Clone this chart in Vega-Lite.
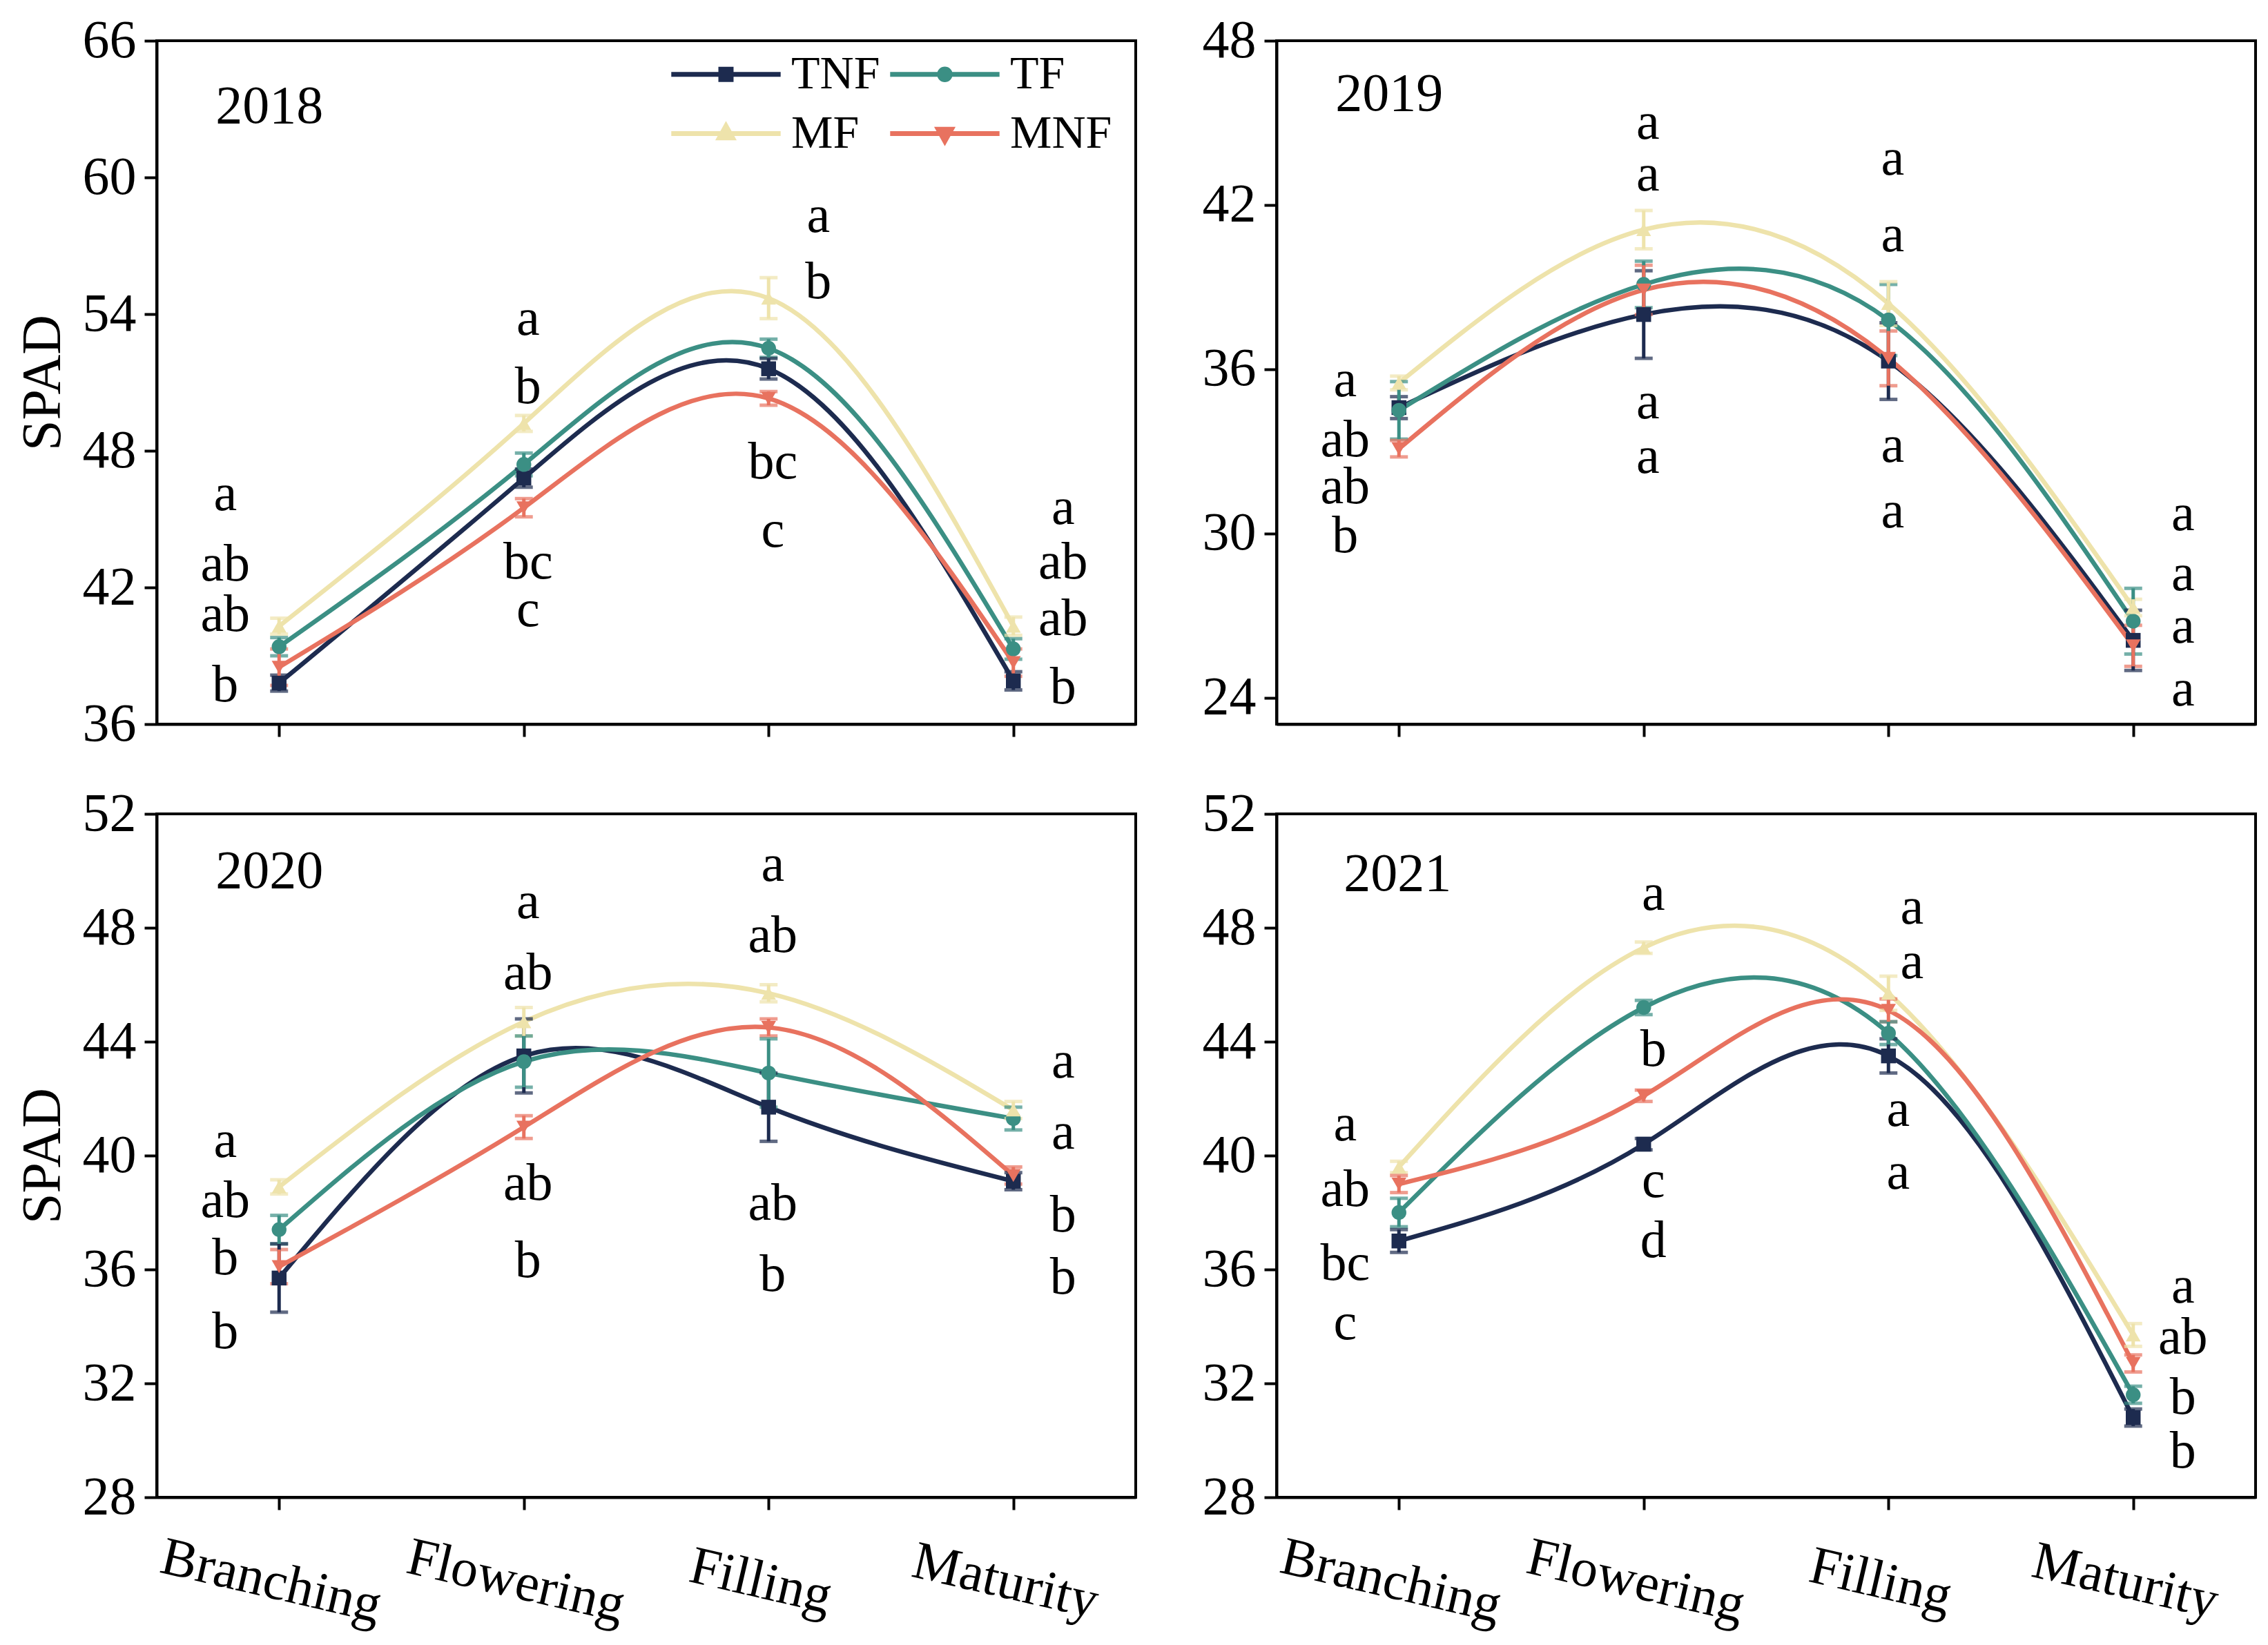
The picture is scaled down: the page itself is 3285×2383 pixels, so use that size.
{
"$schema": "https://vega.github.io/schema/vega-lite/v6.json",
"background": "white",
"padding": {"left": 20, "top": 18, "right": 5, "bottom": 5},
"datasets": {
"pts": [
{"year":2018,"stage":"Branching","trt":"TNF","value":37.8,"sd":0.35},
{"year":2018,"stage":"Branching","trt":"TF","value":39.4,"sd":0.4},
{"year":2018,"stage":"Branching","trt":"MF","value":40.3,"sd":0.35},
{"year":2018,"stage":"Branching","trt":"MNF","value":38.5,"sd":0.8},
{"year":2018,"stage":"Flowering","trt":"TNF","value":46.8,"sd":0.4},
{"year":2018,"stage":"Flowering","trt":"TF","value":47.4,"sd":0.5},
{"year":2018,"stage":"Flowering","trt":"MF","value":49.2,"sd":0.35},
{"year":2018,"stage":"Flowering","trt":"MNF","value":45.5,"sd":0.4},
{"year":2018,"stage":"Filling","trt":"TNF","value":51.6,"sd":0.45},
{"year":2018,"stage":"Filling","trt":"TF","value":52.5,"sd":0.4},
{"year":2018,"stage":"Filling","trt":"MF","value":54.7,"sd":0.9},
{"year":2018,"stage":"Filling","trt":"MNF","value":50.3,"sd":0.3},
{"year":2018,"stage":"Maturity","trt":"TNF","value":37.9,"sd":0.4},
{"year":2018,"stage":"Maturity","trt":"TF","value":39.3,"sd":0.45},
{"year":2018,"stage":"Maturity","trt":"MF","value":40.3,"sd":0.4},
{"year":2018,"stage":"Maturity","trt":"MNF","value":38.7,"sd":0.6},
{"year":2019,"stage":"Branching","trt":"TNF","value":34.6,"sd":0.4},
{"year":2019,"stage":"Branching","trt":"TF","value":34.5,"sd":1.05},
{"year":2019,"stage":"Branching","trt":"MF","value":35.5,"sd":0.25},
{"year":2019,"stage":"Branching","trt":"MNF","value":33.1,"sd":0.3},
{"year":2019,"stage":"Flowering","trt":"TNF","value":38.0,"sd":1.6},
{"year":2019,"stage":"Flowering","trt":"TF","value":39.1,"sd":0.85},
{"year":2019,"stage":"Flowering","trt":"MF","value":41.1,"sd":0.7},
{"year":2019,"stage":"Flowering","trt":"MNF","value":38.9,"sd":0.9},
{"year":2019,"stage":"Filling","trt":"TNF","value":36.3,"sd":1.4},
{"year":2019,"stage":"Filling","trt":"TF","value":37.8,"sd":1.3},
{"year":2019,"stage":"Filling","trt":"MF","value":38.4,"sd":0.8},
{"year":2019,"stage":"Filling","trt":"MNF","value":36.4,"sd":1.0},
{"year":2019,"stage":"Maturity","trt":"TNF","value":26.1,"sd":1.1},
{"year":2019,"stage":"Maturity","trt":"TF","value":26.8,"sd":1.2},
{"year":2019,"stage":"Maturity","trt":"MF","value":27.3,"sd":0.3},
{"year":2019,"stage":"Maturity","trt":"MNF","value":25.9,"sd":0.75},
{"year":2020,"stage":"Branching","trt":"TNF","value":35.7,"sd":1.2},
{"year":2020,"stage":"Branching","trt":"TF","value":37.4,"sd":0.5},
{"year":2020,"stage":"Branching","trt":"MF","value":38.9,"sd":0.25},
{"year":2020,"stage":"Branching","trt":"MNF","value":36.1,"sd":0.6},
{"year":2020,"stage":"Flowering","trt":"TNF","value":43.5,"sd":1.3},
{"year":2020,"stage":"Flowering","trt":"TF","value":43.3,"sd":0.9},
{"year":2020,"stage":"Flowering","trt":"MF","value":44.7,"sd":0.5},
{"year":2020,"stage":"Flowering","trt":"MNF","value":41.0,"sd":0.4},
{"year":2020,"stage":"Filling","trt":"TNF","value":41.7,"sd":1.2},
{"year":2020,"stage":"Filling","trt":"TF","value":42.9,"sd":1.2},
{"year":2020,"stage":"Filling","trt":"MF","value":45.7,"sd":0.3},
{"year":2020,"stage":"Filling","trt":"MNF","value":44.5,"sd":0.3},
{"year":2020,"stage":"Maturity","trt":"TNF","value":39.1,"sd":0.3},
{"year":2020,"stage":"Maturity","trt":"TF","value":41.3,"sd":0.4},
{"year":2020,"stage":"Maturity","trt":"MF","value":41.6,"sd":0.3},
{"year":2020,"stage":"Maturity","trt":"MNF","value":39.3,"sd":0.3},
{"year":2021,"stage":"Branching","trt":"TNF","value":37.0,"sd":0.4},
{"year":2021,"stage":"Branching","trt":"TF","value":38.0,"sd":0.5},
{"year":2021,"stage":"Branching","trt":"MF","value":39.6,"sd":0.2},
{"year":2021,"stage":"Branching","trt":"MNF","value":39.0,"sd":0.3},
{"year":2021,"stage":"Flowering","trt":"TNF","value":40.4,"sd":0.2},
{"year":2021,"stage":"Flowering","trt":"TF","value":45.2,"sd":0.25},
{"year":2021,"stage":"Flowering","trt":"MF","value":47.3,"sd":0.2},
{"year":2021,"stage":"Flowering","trt":"MNF","value":42.1,"sd":0.2},
{"year":2021,"stage":"Filling","trt":"TNF","value":43.5,"sd":0.6},
{"year":2021,"stage":"Filling","trt":"TF","value":44.3,"sd":0.4},
{"year":2021,"stage":"Filling","trt":"MF","value":45.7,"sd":0.6},
{"year":2021,"stage":"Filling","trt":"MNF","value":45.1,"sd":0.4},
{"year":2021,"stage":"Maturity","trt":"TNF","value":30.8,"sd":0.3},
{"year":2021,"stage":"Maturity","trt":"TF","value":31.6,"sd":0.3},
{"year":2021,"stage":"Maturity","trt":"MF","value":33.7,"sd":0.4},
{"year":2021,"stage":"Maturity","trt":"MNF","value":32.7,"sd":0.3}
],
"lbl": [
{"year":2018,"stage":"Branching","letter":"2018","value":62.4,"side":"year"},
{"year":2018,"stage":"Branching","letter":"a","value":46.1,"side":"left"},
{"year":2018,"stage":"Branching","letter":"ab","value":43.0,"side":"left"},
{"year":2018,"stage":"Branching","letter":"ab","value":40.8,"side":"left"},
{"year":2018,"stage":"Branching","letter":"b","value":37.7,"side":"left"},
{"year":2018,"stage":"Flowering","letter":"a","value":53.8,"side":"center"},
{"year":2018,"stage":"Flowering","letter":"b","value":50.8,"side":"center"},
{"year":2018,"stage":"Flowering","letter":"bc","value":43.1,"side":"center"},
{"year":2018,"stage":"Flowering","letter":"c","value":41.0,"side":"center"},
{"year":2018,"stage":"Filling","letter":"a","value":58.3,"side":"right"},
{"year":2018,"stage":"Filling","letter":"b","value":55.4,"side":"right"},
{"year":2018,"stage":"Filling","letter":"bc","value":47.5,"side":"center"},
{"year":2018,"stage":"Filling","letter":"c","value":44.5,"side":"center"},
{"year":2018,"stage":"Maturity","letter":"a","value":45.5,"side":"right"},
{"year":2018,"stage":"Maturity","letter":"ab","value":43.1,"side":"right"},
{"year":2018,"stage":"Maturity","letter":"ab","value":40.6,"side":"right"},
{"year":2018,"stage":"Maturity","letter":"b","value":37.6,"side":"right"},
{"year":2019,"stage":"Branching","letter":"2019","value":45.45,"side":"year"},
{"year":2019,"stage":"Branching","letter":"a","value":35.6,"side":"left"},
{"year":2019,"stage":"Branching","letter":"ab","value":33.4,"side":"left"},
{"year":2019,"stage":"Branching","letter":"ab","value":31.7,"side":"left"},
{"year":2019,"stage":"Branching","letter":"b","value":29.9,"side":"left"},
{"year":2019,"stage":"Flowering","letter":"a","value":45.0,"side":"center"},
{"year":2019,"stage":"Flowering","letter":"a","value":43.1,"side":"center"},
{"year":2019,"stage":"Flowering","letter":"a","value":34.8,"side":"center"},
{"year":2019,"stage":"Flowering","letter":"a","value":32.8,"side":"center"},
{"year":2019,"stage":"Filling","letter":"a","value":43.7,"side":"center"},
{"year":2019,"stage":"Filling","letter":"a","value":40.9,"side":"center"},
{"year":2019,"stage":"Filling","letter":"a","value":33.2,"side":"center"},
{"year":2019,"stage":"Filling","letter":"a","value":30.8,"side":"center"},
{"year":2019,"stage":"Maturity","letter":"a","value":30.7,"side":"right"},
{"year":2019,"stage":"Maturity","letter":"a","value":28.5,"side":"right"},
{"year":2019,"stage":"Maturity","letter":"a","value":26.6,"side":"right"},
{"year":2019,"stage":"Maturity","letter":"a","value":24.3,"side":"right"},
{"year":2020,"stage":"Branching","letter":"2020","value":49.4,"side":"year"},
{"year":2020,"stage":"Branching","letter":"a","value":40.5,"side":"left"},
{"year":2020,"stage":"Branching","letter":"ab","value":38.4,"side":"left"},
{"year":2020,"stage":"Branching","letter":"b","value":36.4,"side":"left"},
{"year":2020,"stage":"Branching","letter":"b","value":33.8,"side":"left"},
{"year":2020,"stage":"Flowering","letter":"a","value":48.9,"side":"center"},
{"year":2020,"stage":"Flowering","letter":"ab","value":46.4,"side":"center"},
{"year":2020,"stage":"Flowering","letter":"ab","value":39.0,"side":"center"},
{"year":2020,"stage":"Flowering","letter":"b","value":36.3,"side":"center"},
{"year":2020,"stage":"Filling","letter":"a","value":50.2,"side":"center"},
{"year":2020,"stage":"Filling","letter":"ab","value":47.7,"side":"center"},
{"year":2020,"stage":"Filling","letter":"ab","value":38.3,"side":"center"},
{"year":2020,"stage":"Filling","letter":"b","value":35.8,"side":"center"},
{"year":2020,"stage":"Maturity","letter":"a","value":43.3,"side":"right"},
{"year":2020,"stage":"Maturity","letter":"a","value":40.8,"side":"right"},
{"year":2020,"stage":"Maturity","letter":"b","value":37.9,"side":"right"},
{"year":2020,"stage":"Maturity","letter":"b","value":35.7,"side":"right"},
{"year":2021,"stage":"Branching","letter":"2021","value":49.3,"side":"year"},
{"year":2021,"stage":"Branching","letter":"a","value":41.1,"side":"left"},
{"year":2021,"stage":"Branching","letter":"ab","value":38.8,"side":"left"},
{"year":2021,"stage":"Branching","letter":"bc","value":36.2,"side":"left"},
{"year":2021,"stage":"Branching","letter":"c","value":34.1,"side":"left"},
{"year":2021,"stage":"Flowering","letter":"a","value":49.2,"side":"center"},
{"year":2021,"stage":"Flowering","letter":"b","value":43.7,"side":"center"},
{"year":2021,"stage":"Flowering","letter":"c","value":39.1,"side":"center"},
{"year":2021,"stage":"Flowering","letter":"d","value":37.0,"side":"center"},
{"year":2021,"stage":"Filling","letter":"a","value":48.7,"side":"near"},
{"year":2021,"stage":"Filling","letter":"a","value":46.8,"side":"near"},
{"year":2021,"stage":"Filling","letter":"a","value":41.6,"side":"center"},
{"year":2021,"stage":"Filling","letter":"a","value":39.4,"side":"center"},
{"year":2021,"stage":"Maturity","letter":"a","value":35.4,"side":"right"},
{"year":2021,"stage":"Maturity","letter":"ab","value":33.6,"side":"right"},
{"year":2021,"stage":"Maturity","letter":"b","value":31.5,"side":"right"},
{"year":2021,"stage":"Maturity","letter":"b","value":29.6,"side":"right"}
]
},
"spacing": 48,
"resolve": {"scale": {"color": "independent", "shape": "independent"}, "legend": {"color": "independent", "shape": "independent"}},
"vconcat": [
{
"spacing": 92,
"resolve": {"scale": {"color": "independent", "shape": "independent"}, "legend": {"color": "independent", "shape": "independent"}},
"hconcat": [
{
"width": 1418, "height": 990,
"resolve": {"scale": {"color": "independent", "shape": "independent"}, "legend": {"color": "independent", "shape": "independent"}},
"encoding": {
"x": {"field": "stage", "type": "nominal", "sort": ["Branching","Flowering","Filling","Maturity"], "scale": {"type": "point", "padding": 0.5}, "axis": {"title": null, "labels": false}},
"y": {"field": "value", "type": "quantitative", "scale": {"domain": [36, 66], "nice": false, "zero": false}, "axis": {"values": [36,42,48,54,60,66], "title": "SPAD"}}
},
"layer": [
{"data": {"name": "pts"}, "transform": [{"filter": "datum.year == 2018"}], "mark": {"type": "line", "interpolate": "natural", "strokeWidth": 6.5},
 "encoding": {"color": {"field": "trt", "type": "nominal", "scale": {"domain": ["TNF","TF","MF","MNF"], "range": ["#1d2b4f","#3b8f84","#eee3ab","#e8725f"]}, "legend": null}}},
{"data": {"name": "pts"}, "transform": [{"filter": "datum.year == 2018"}], "mark": {"type": "errorbar", "thickness": 5, "ticks": {"size": 26, "thickness": 5}},
 "encoding": {"yError": {"field": "sd"}, "color": {"field": "trt", "type": "nominal", "scale": {"domain": ["TNF","TF","MF","MNF"], "range": ["#1d2b4f","#3b8f84","#eee3ab","#e8725f"]}, "legend": null}}},
{"data": {"name": "pts"}, "transform": [{"filter": "datum.year == 2018"}], "mark": {"type": "point", "filled": true, "size": 460, "opacity": 1},
 "encoding": {"color": {"field": "trt", "type": "nominal", "scale": {"domain": ["TNF","TF","MF","MNF"], "range": ["#1d2b4f","#3b8f84","#eee3ab","#e8725f"]}, "legend": null},
  "shape": {"field": "trt", "type": "nominal", "scale": {"domain": ["TNF","TF","MF","MNF"], "range": ["square","circle","triangle-up","triangle-down"]}, "legend": null}}},
{"data": {"name": "pts"}, "transform": [{"filter": "datum.year == 0"}], "mark": {"type": "point", "filled": false, "strokeWidth": 7, "opacity": 1, "size": 9216},
 "encoding": {
  "color": {"field": "trt", "type": "nominal", "scale": {"domain": ["TNF","TF","MF","MNF"], "range": ["#1d2b4f","#3b8f84","#eee3ab","#e8725f"]},
   "legend": {"orient": "none", "legendX": 773, "legendY": -3, "direction": "horizontal", "columns": 2, "title": null, "padding": 0, "offset": 0,
    "labelFont": "Liberation Serif", "labelFontSize": 68, "labelColor": "black", "labelOffset": 43, "labelBaseline": "middle", "labelLimit": 1000,
    "symbolSize": 9216, "symbolStrokeWidth": 7, "symbolOpacity": 1, "columnPadding": 0, "rowPadding": 0}},
  "shape": {"field": "trt", "type": "nominal", "scale": {"domain": ["TNF","TF","MF","MNF"], "range": [
    "M-1.65,0H1.65M-0.156,-0.156H0.156V0.156H-0.156ZM-0.156,-0.07H0.156M-0.156,0.07H0.156",
    "M-1.65,0H1.65M-0.16,0A0.16,0.16,0,1,0,0.16,0A0.16,0.16,0,1,0,-0.16,0ZM0,-0.16V0.16",
    "M-1.65,0H1.65M0,-0.23L0.2,0.13H-0.2ZM-0.1,0.06H0.1M0,-0.13V0.13",
    "M-1.65,0H1.65M0,0.23L0.2,-0.13H-0.2ZM-0.1,-0.06H0.1M0,-0.13V0.13"]},
   "legend": {"orient": "none", "legendX": 773, "legendY": -3, "direction": "horizontal", "columns": 2, "title": null, "padding": 0, "offset": 0,
    "labelFont": "Liberation Serif", "labelFontSize": 68, "labelColor": "black", "labelOffset": 43, "labelBaseline": "middle", "labelLimit": 1000,
    "symbolSize": 9216, "symbolStrokeWidth": 7, "symbolOpacity": 1, "columnPadding": 0, "rowPadding": 0}}}},
{"data": {"name": "lbl"}, "transform": [{"filter": "datum.year == 2018 && datum.side == 'left'"}], "mark": {"type": "text", "dx": -78, "baseline": "middle", "align": "center"}, "encoding": {"text": {"field": "letter"}}},
{"data": {"name": "lbl"}, "transform": [{"filter": "datum.year == 2018 && datum.side == 'center'"}], "mark": {"type": "text", "dx": 6, "baseline": "middle", "align": "center"}, "encoding": {"text": {"field": "letter"}}},
{"data": {"name": "lbl"}, "transform": [{"filter": "datum.year == 2018 && datum.side == 'right'"}], "mark": {"type": "text", "dx": 72, "baseline": "middle", "align": "center"}, "encoding": {"text": {"field": "letter"}}},
{"data": {"name": "lbl"}, "transform": [{"filter": "datum.year == 2018 && datum.side == 'year'"}], "mark": {"type": "text", "dx": -92, "baseline": "alphabetic", "align": "left", "fontSize": 78}, "encoding": {"text": {"field": "letter"}}}
]
},
{
"width": 1418, "height": 990,
"encoding": {
"x": {"field": "stage", "type": "nominal", "sort": ["Branching","Flowering","Filling","Maturity"], "scale": {"type": "point", "padding": 0.5}, "axis": {"title": null, "labels": false}},
"y": {"field": "value", "type": "quantitative", "scale": {"domain": [23.04, 48], "nice": false, "zero": false}, "axis": {"values": [24,30,36,42,48], "title": null}}
},
"layer": [
{"data": {"name": "pts"}, "transform": [{"filter": "datum.year == 2019"}], "mark": {"type": "line", "interpolate": "natural", "strokeWidth": 6.5},
 "encoding": {"color": {"field": "trt", "type": "nominal", "scale": {"domain": ["TNF","TF","MF","MNF"], "range": ["#1d2b4f","#3b8f84","#eee3ab","#e8725f"]}, "legend": null}}},
{"data": {"name": "pts"}, "transform": [{"filter": "datum.year == 2019"}], "mark": {"type": "errorbar", "thickness": 5, "ticks": {"size": 26, "thickness": 5}},
 "encoding": {"yError": {"field": "sd"}, "color": {"field": "trt", "type": "nominal", "scale": {"domain": ["TNF","TF","MF","MNF"], "range": ["#1d2b4f","#3b8f84","#eee3ab","#e8725f"]}, "legend": null}}},
{"data": {"name": "pts"}, "transform": [{"filter": "datum.year == 2019"}], "mark": {"type": "point", "filled": true, "size": 460, "opacity": 1},
 "encoding": {"color": {"field": "trt", "type": "nominal", "scale": {"domain": ["TNF","TF","MF","MNF"], "range": ["#1d2b4f","#3b8f84","#eee3ab","#e8725f"]}, "legend": null},
  "shape": {"field": "trt", "type": "nominal", "scale": {"domain": ["TNF","TF","MF","MNF"], "range": ["square","circle","triangle-up","triangle-down"]}, "legend": null}}},
{"data": {"name": "lbl"}, "transform": [{"filter": "datum.year == 2019 && datum.side == 'left'"}], "mark": {"type": "text", "dx": -78, "baseline": "middle", "align": "center"}, "encoding": {"text": {"field": "letter"}}},
{"data": {"name": "lbl"}, "transform": [{"filter": "datum.year == 2019 && datum.side == 'center'"}], "mark": {"type": "text", "dx": 6, "baseline": "middle", "align": "center"}, "encoding": {"text": {"field": "letter"}}},
{"data": {"name": "lbl"}, "transform": [{"filter": "datum.year == 2019 && datum.side == 'right'"}], "mark": {"type": "text", "dx": 72, "baseline": "middle", "align": "center"}, "encoding": {"text": {"field": "letter"}}},
{"data": {"name": "lbl"}, "transform": [{"filter": "datum.year == 2019 && datum.side == 'year'"}], "mark": {"type": "text", "dx": -92, "baseline": "alphabetic", "align": "left", "fontSize": 78}, "encoding": {"text": {"field": "letter"}}}
]
}
]
},
{
"spacing": 92,
"resolve": {"scale": {"color": "independent", "shape": "independent"}, "legend": {"color": "independent", "shape": "independent"}},
"hconcat": [
{
"width": 1418, "height": 990,
"encoding": {
"x": {"field": "stage", "type": "nominal", "sort": ["Branching","Flowering","Filling","Maturity"], "scale": {"type": "point", "padding": 0.5}, "axis": {"title": null, "labelAngle": 13, "labelAlign": "center", "labelBaseline": "middle", "labelPadding": 104, "labelOffset": -12, "labelLimit": 1000}},
"y": {"field": "value", "type": "quantitative", "scale": {"domain": [28, 52], "nice": false, "zero": false}, "axis": {"values": [28,32,36,40,44,48,52], "title": "SPAD"}}
},
"layer": [
{"data": {"name": "pts"}, "transform": [{"filter": "datum.year == 2020"}], "mark": {"type": "line", "interpolate": "natural", "strokeWidth": 6.5},
 "encoding": {"color": {"field": "trt", "type": "nominal", "scale": {"domain": ["TNF","TF","MF","MNF"], "range": ["#1d2b4f","#3b8f84","#eee3ab","#e8725f"]}, "legend": null}}},
{"data": {"name": "pts"}, "transform": [{"filter": "datum.year == 2020"}], "mark": {"type": "errorbar", "thickness": 5, "ticks": {"size": 26, "thickness": 5}},
 "encoding": {"yError": {"field": "sd"}, "color": {"field": "trt", "type": "nominal", "scale": {"domain": ["TNF","TF","MF","MNF"], "range": ["#1d2b4f","#3b8f84","#eee3ab","#e8725f"]}, "legend": null}}},
{"data": {"name": "pts"}, "transform": [{"filter": "datum.year == 2020"}], "mark": {"type": "point", "filled": true, "size": 460, "opacity": 1},
 "encoding": {"color": {"field": "trt", "type": "nominal", "scale": {"domain": ["TNF","TF","MF","MNF"], "range": ["#1d2b4f","#3b8f84","#eee3ab","#e8725f"]}, "legend": null},
  "shape": {"field": "trt", "type": "nominal", "scale": {"domain": ["TNF","TF","MF","MNF"], "range": ["square","circle","triangle-up","triangle-down"]}, "legend": null}}},
{"data": {"name": "lbl"}, "transform": [{"filter": "datum.year == 2020 && datum.side == 'left'"}], "mark": {"type": "text", "dx": -78, "baseline": "middle", "align": "center"}, "encoding": {"text": {"field": "letter"}}},
{"data": {"name": "lbl"}, "transform": [{"filter": "datum.year == 2020 && datum.side == 'center'"}], "mark": {"type": "text", "dx": 6, "baseline": "middle", "align": "center"}, "encoding": {"text": {"field": "letter"}}},
{"data": {"name": "lbl"}, "transform": [{"filter": "datum.year == 2020 && datum.side == 'right'"}], "mark": {"type": "text", "dx": 72, "baseline": "middle", "align": "center"}, "encoding": {"text": {"field": "letter"}}},
{"data": {"name": "lbl"}, "transform": [{"filter": "datum.year == 2020 && datum.side == 'year'"}], "mark": {"type": "text", "dx": -92, "baseline": "alphabetic", "align": "left", "fontSize": 78}, "encoding": {"text": {"field": "letter"}}}
]
},
{
"width": 1418, "height": 990,
"encoding": {
"x": {"field": "stage", "type": "nominal", "sort": ["Branching","Flowering","Filling","Maturity"], "scale": {"type": "point", "padding": 0.5}, "axis": {"title": null, "labelAngle": 13, "labelAlign": "center", "labelBaseline": "middle", "labelPadding": 104, "labelOffset": -12, "labelLimit": 1000}},
"y": {"field": "value", "type": "quantitative", "scale": {"domain": [28, 52], "nice": false, "zero": false}, "axis": {"values": [28,32,36,40,44,48,52], "title": null}}
},
"layer": [
{"data": {"name": "pts"}, "transform": [{"filter": "datum.year == 2021"}], "mark": {"type": "line", "interpolate": "natural", "strokeWidth": 6.5},
 "encoding": {"color": {"field": "trt", "type": "nominal", "scale": {"domain": ["TNF","TF","MF","MNF"], "range": ["#1d2b4f","#3b8f84","#eee3ab","#e8725f"]}, "legend": null}}},
{"data": {"name": "pts"}, "transform": [{"filter": "datum.year == 2021"}], "mark": {"type": "errorbar", "thickness": 5, "ticks": {"size": 26, "thickness": 5}},
 "encoding": {"yError": {"field": "sd"}, "color": {"field": "trt", "type": "nominal", "scale": {"domain": ["TNF","TF","MF","MNF"], "range": ["#1d2b4f","#3b8f84","#eee3ab","#e8725f"]}, "legend": null}}},
{"data": {"name": "pts"}, "transform": [{"filter": "datum.year == 2021"}], "mark": {"type": "point", "filled": true, "size": 460, "opacity": 1},
 "encoding": {"color": {"field": "trt", "type": "nominal", "scale": {"domain": ["TNF","TF","MF","MNF"], "range": ["#1d2b4f","#3b8f84","#eee3ab","#e8725f"]}, "legend": null},
  "shape": {"field": "trt", "type": "nominal", "scale": {"domain": ["TNF","TF","MF","MNF"], "range": ["square","circle","triangle-up","triangle-down"]}, "legend": null}}},
{"data": {"name": "lbl"}, "transform": [{"filter": "datum.year == 2021 && datum.side == 'left'"}], "mark": {"type": "text", "dx": -78, "baseline": "middle", "align": "center"}, "encoding": {"text": {"field": "letter"}}},
{"data": {"name": "lbl"}, "transform": [{"filter": "datum.year == 2021 && datum.side == 'center'"}], "mark": {"type": "text", "dx": 14, "baseline": "middle", "align": "center"}, "encoding": {"text": {"field": "letter"}}},
{"data": {"name": "lbl"}, "transform": [{"filter": "datum.year == 2021 && datum.side == 'near'"}], "mark": {"type": "text", "dx": 34, "baseline": "middle", "align": "center"}, "encoding": {"text": {"field": "letter"}}},
{"data": {"name": "lbl"}, "transform": [{"filter": "datum.year == 2021 && datum.side == 'right'"}], "mark": {"type": "text", "dx": 72, "baseline": "middle", "align": "center"}, "encoding": {"text": {"field": "letter"}}},
{"data": {"name": "lbl"}, "transform": [{"filter": "datum.year == 2021 && datum.side == 'year'"}], "mark": {"type": "text", "dx": -80, "baseline": "alphabetic", "align": "left", "fontSize": 78}, "encoding": {"text": {"field": "letter"}}}
]
}
]
}
],
"config": {
"font": "Liberation Serif",
"view": {"stroke": "black", "strokeWidth": 4},
"axis": {"domainColor": "black", "domainWidth": 4, "tickColor": "black", "tickWidth": 4, "tickSize": 18, "labelFont": "Liberation Serif", "labelFontSize": 78, "labelColor": "black", "labelPadding": 12, "grid": false, "titleFont": "Liberation Serif", "titleFontSize": 80, "titleFontWeight": "normal", "titleColor": "black", "labelOverlap": false, "labelFlush": false, "titlePadding": 16},
"text": {"font": "Liberation Serif", "fontSize": 76, "color": "black"}
}
}
